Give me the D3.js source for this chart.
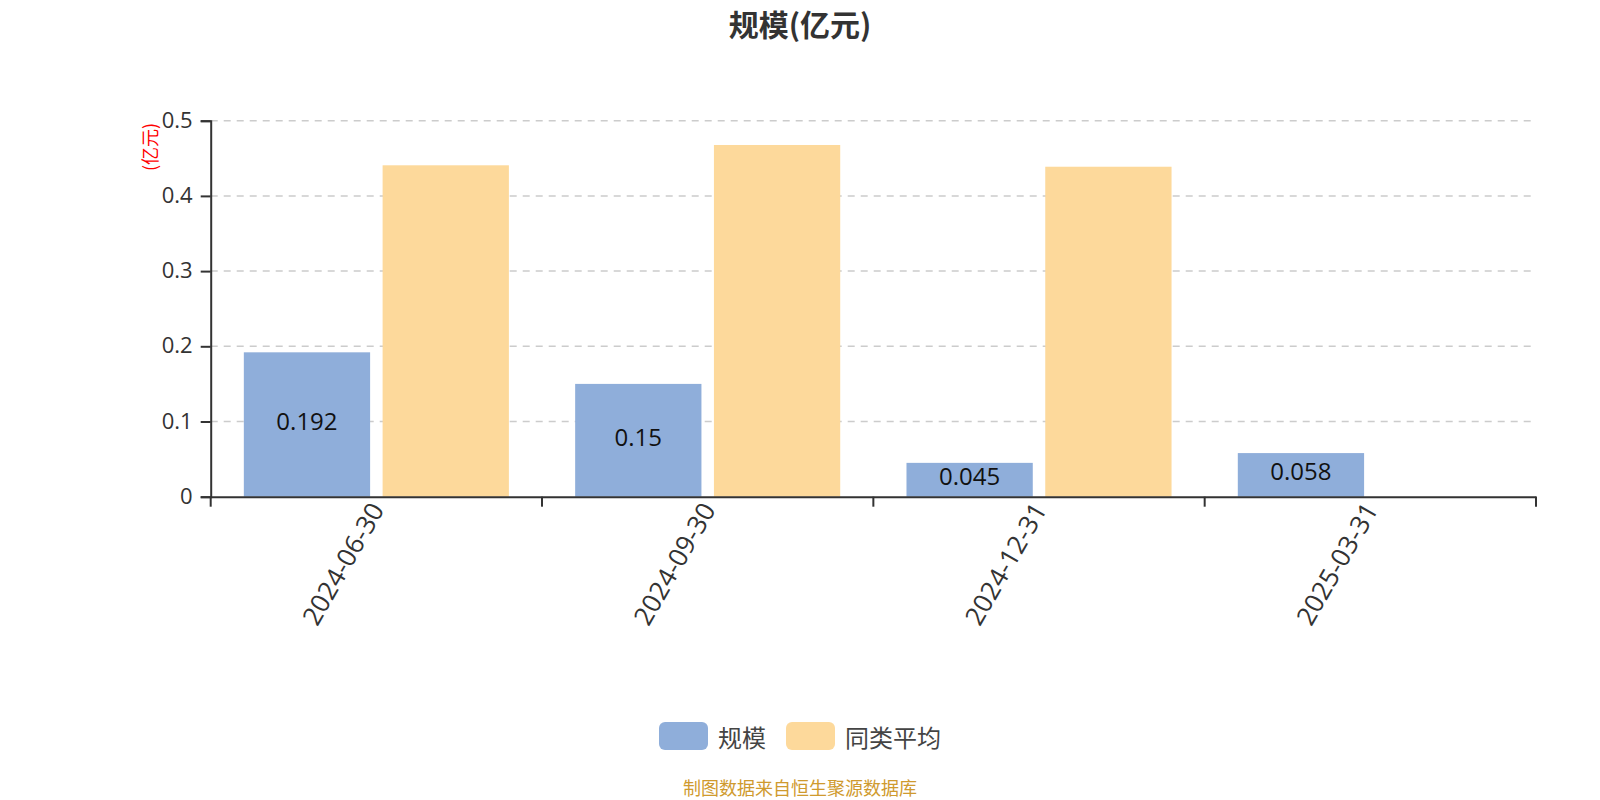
<!DOCTYPE html>
<html>
<head>
<meta charset="utf-8">
<script src="https://cdn.jsdelivr.net/npm/d3@7/dist/d3.min.js"></script>
<style>
  html, body { margin: 0; padding: 0; background: #fff; }
  svg { display: block; }
  text { font-family: "Noto Sans CJK SC", "Open Sans", sans-serif; }
  .num { font-family: "Open Sans", "Noto Sans CJK SC", sans-serif; }
</style>
</head>
<body>
<svg id="chart" width="1600" height="800"></svg>
<script>
const categories = ["2024-06-30", "2024-09-30", "2024-12-31", "2025-03-31"];
const seriesNames = ["规模", "同类平均"];
const scaleValues = [0.192, 0.15, 0.045, 0.058];
const peerAverage = [0.4407, 0.4677, 0.4388, null];
const yTicks = [0, 0.1, 0.2, 0.3, 0.4, 0.5];
const colors = ["#8FAEDA", "#FDD99B"];
const titleText = "规模(亿元)";
const unitText = "(亿元)";
const footerText = "制图数据来自恒生聚源数据库";

const svg = d3.select("#chart");
const plotLeft = 210.7, plotRight = 1536, plotTop = 120.7, plotBottom = 496.7;

const x = d3.scaleBand().domain(categories).range([plotLeft, plotRight]).paddingInner(0).paddingOuter(0);
const bw = x.bandwidth();
const xs = d3.scaleBand().domain(seriesNames).range([bw * 0.1, bw * 0.9]).paddingInner(0.09).paddingOuter(0);
const y = d3.scaleLinear().domain([0, 0.5]).range([plotBottom, plotTop]);

// title
svg.append("text").attr("x", 800).attr("y", 23)
  .attr("text-anchor", "middle").attr("dominant-baseline", "central")
  .attr("font-size", 30).attr("font-weight", "bold").attr("fill", "#333")
  .text(titleText);

// grid
svg.append("g").selectAll("line").data(yTicks.filter(d => d > 0)).join("line")
  .attr("x1", plotLeft).attr("x2", plotRight)
  .attr("y1", d => y(d)).attr("y2", d => y(d))
  .attr("stroke", "#ccc").attr("stroke-width", 1.5).attr("stroke-dasharray", "7,6");

// bars
const rows = categories.map((c, i) => ({ c, vals: [scaleValues[i], peerAverage[i]] }));
const groups = svg.append("g").selectAll("g").data(rows).join("g")
  .attr("transform", d => `translate(${x(d.c)},0)`);
groups.selectAll("rect").data(d => d.vals.map((v, k) => ({ v, k })).filter(e => e.v != null)).join("rect")
  .attr("x", e => xs(seriesNames[e.k]))
  .attr("width", xs.bandwidth())
  .attr("y", e => y(e.v))
  .attr("height", e => y(0) - y(e.v))
  .attr("fill", e => colors[e.k]);

// labels in blue bars
groups.append("text").attr("class", "num")
  .attr("x", xs(seriesNames[0]) + xs.bandwidth() / 2)
  .attr("y", d => (y(d.vals[0]) + y(0)) / 2 - 4)
  .attr("text-anchor", "middle").attr("dominant-baseline", "central")
  .attr("font-size", 24).attr("fill", "#111")
  .text(d => String(d.vals[0]));

// y axis
const yAxis = d3.axisLeft(y).tickValues(yTicks).tickSize(10).tickPadding(8)
  .tickFormat(d => d === 0 ? "0" : d3.format(".1f")(d));
const gy = svg.append("g").attr("transform", `translate(${plotLeft},0)`).call(yAxis);
gy.select(".domain").attr("stroke", "#333").attr("stroke-width", 2);
gy.selectAll(".tick line").attr("stroke", "#333").attr("stroke-width", 2);
gy.selectAll(".tick text").attr("class", "num").attr("font-size", 22).attr("fill", "#333")
  .attr("font-family", null).attr("dy", "0.3em");

// x axis
const xAxis = d3.axisBottom(x).tickSize(0).tickFormat(() => "");
const gx = svg.append("g").attr("transform", `translate(0,${plotBottom})`).call(xAxis);
gx.select(".domain").attr("stroke", "#333").attr("stroke-width", 2);
const boundaries = categories.map(c => x(c)).concat([plotRight]);
gx.selectAll(".btick").data(boundaries).join("line")
  .attr("x1", d => d).attr("x2", d => d).attr("y1", 0).attr("y2", 10)
  .attr("stroke", "#333").attr("stroke-width", 2);
gx.selectAll(".xl").data(categories).join("text").attr("class", "num")
  .attr("transform", d => `translate(${x(d) + bw / 2},8) rotate(-60)`)
  .attr("text-anchor", "end").attr("dominant-baseline", "central")
  .attr("font-size", 26).attr("fill", "#333")
  .text(d => d);

// unit label
svg.append("text").attr("transform", "translate(149,147) rotate(-90)")
  .attr("text-anchor", "middle").attr("dominant-baseline", "central")
  .attr("font-size", 18).attr("fill", "#ff0000").text(unitText);

// legend
const lg = svg.append("g");
let cx = 0;
seriesNames.forEach((n, i) => {
  const g = lg.append("g");
  g.append("rect").attr("x", cx).attr("y", 722).attr("width", 49).attr("height", 28)
    .attr("rx", 6).attr("fill", colors[i]);
  const t = g.append("text").attr("x", cx + 59).attr("y", 736)
    .attr("dominant-baseline", "central").attr("font-size", 24).attr("fill", "#444").text(n);
  cx += 59 + t.node().getComputedTextLength() + 20;
});
const total = cx - 20;
lg.attr("transform", `translate(${800 - total / 2},0)`);

// footer
svg.append("text").attr("x", 800).attr("y", 787)
  .attr("text-anchor", "middle").attr("dominant-baseline", "central")
  .attr("font-size", 18).attr("fill", "#CF9A2E").text(footerText);
</script>
</body>
</html>
